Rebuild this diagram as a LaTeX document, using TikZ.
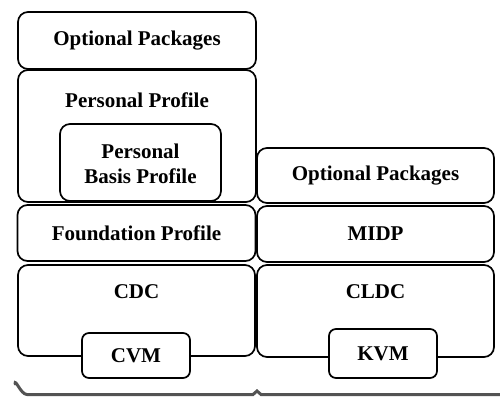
\documentclass[tikz,border=0pt]{standalone}
\usepackage{fontspec}
\setmainfont{Liberation Serif}
\usepackage{tikz}
\usetikzlibrary{positioning,calc}

\begin{document}
\begin{tikzpicture}[x=1pt,y=-1pt,
 lyr/.style={draw,rounded corners=10pt,line width=1.7pt,inner sep=0pt,font=\bfseries\fontsize{21}{25}\selectfont},
 vmbox/.style={lyr,fill=white,rounded corners=7pt},
 ttl/.style={font=\bfseries\fontsize{21}{25}\selectfont,align=center,inner sep=1pt},
 brc/.style={line width=3pt,gray!65!black,line cap=round}]
\useasboundingbox (0,0) rectangle (500,396);
% left stack
\node[lyr,minimum width=238pt,minimum height=57pt] (optl) at (137,40.5) {Optional Packages};
\node[lyr,minimum width=238pt,minimum height=132pt] (pp) at (137,136) {};
\node[ttl] (pptt) at (137,100) {Personal Profile};
\node[lyr,minimum width=161pt,minimum height=77pt] (pbp) at (140.5,162.5) {};
\node[ttl] (pbptt) at (140.5,164) {Personal\\Basis Profile};
\node[lyr,minimum width=238pt,minimum height=56pt] (fp) at (136.5,233) {Foundation Profile};
\node[lyr,minimum width=237pt,minimum height=91pt] (cdc) at (136.5,310.5) {};
\node[ttl] (cdctt) at (136.5,292) {CDC};
\node[vmbox,minimum width=108pt,minimum height=45pt] (cvm) at (136,355.5) {CVM};
% right stack
\node[lyr,minimum width=237pt,minimum height=55pt] (optr) at (375.5,175.5) {Optional Packages};
\node[lyr,minimum width=237pt,minimum height=56pt] (midp) at (375.5,234) {MIDP};
\node[lyr,minimum width=237pt,minimum height=92pt] (cldc) at (375.5,311) {};
\node[ttl] (cldctt) at (375.5,292) {CLDC};
\node[vmbox,minimum width=108pt,minimum height=49pt] (kvm) at (383,353.5) {KVM};
% brace
\draw[brc] (15,384) to[out=90,in=180] (27,394.5) -- (253,394.5) -- (257,391) -- (261,394.5) -- (505,394.5);
\end{tikzpicture}
\end{document}
